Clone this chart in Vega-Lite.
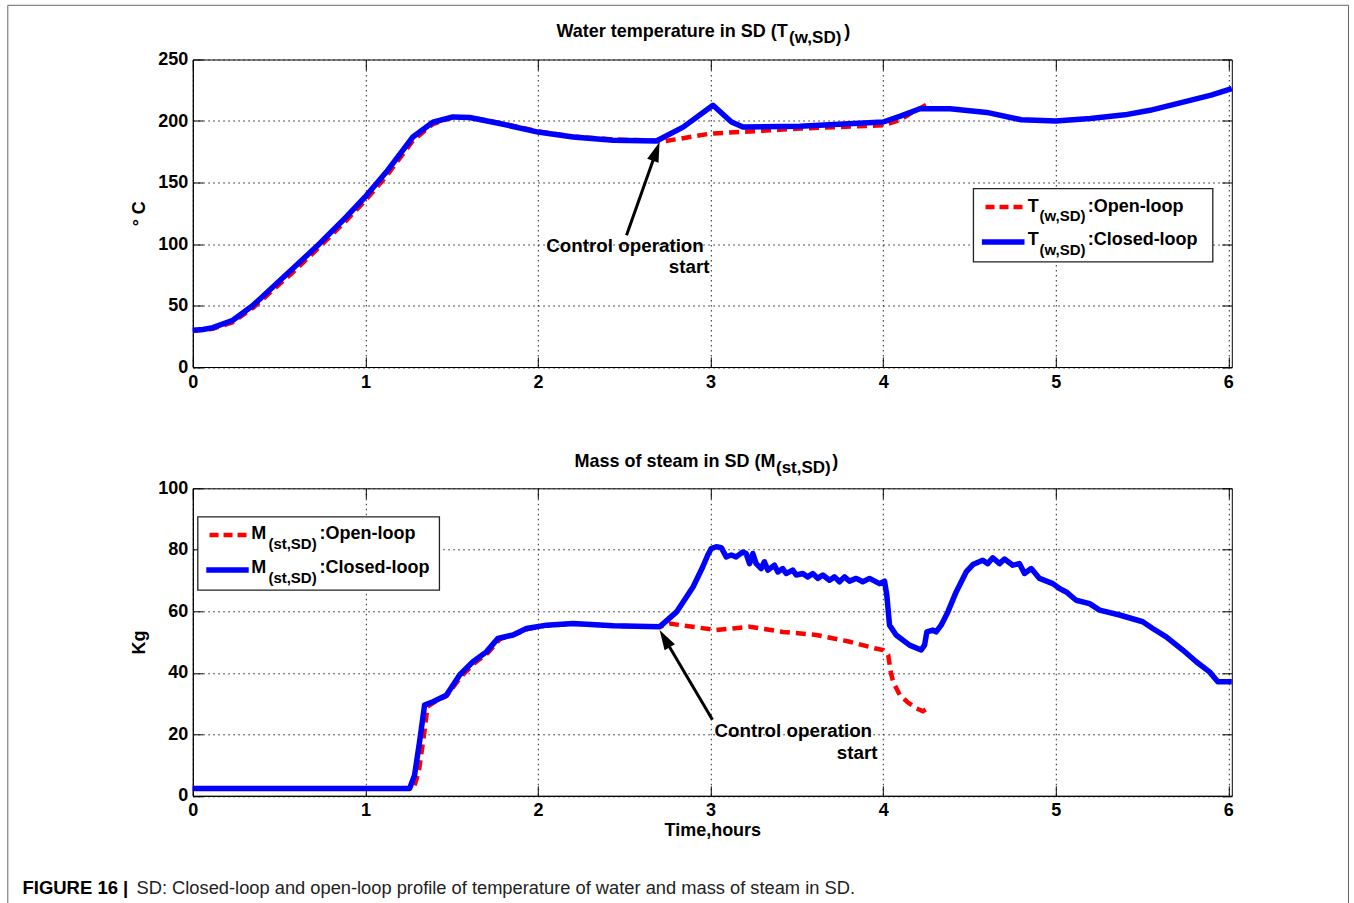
{
  "$schema": "https://vega.github.io/schema/vega-lite/v6.json",
  "autosize": {"type": "pad"},
  "padding": {"left": 5.8, "top": 3.5, "right": 0, "bottom": 0},
  "background": "white",
  "config": {
    "font": "Liberation Sans",
    "view": {"stroke": "#000", "strokeWidth": 1},
    "axis": {
      "labelFont": "Liberation Sans", "labelFontWeight": "bold", "labelFontSize": 18, "labelColor": "#000",
      "titleFont": "Liberation Sans", "titleFontWeight": "bold", "titleFontSize": 18, "titleColor": "#000",
      "domainColor": "#000", "tickColor": "#000", "gridColor": "#222", "gridDash": [1.5, 3.5], "gridWidth": 1,
      "labelFlush": false, "labelOverlap": false
    },
    "text": {"font": "Liberation Sans", "fontWeight": "bold", "color": "#000"}
  },
  "datasets": {
    "one": [{}],
    "tempOpen": [
      {"hours": 0, "temp": 29.5}, {"hours": 0.116, "temp": 31}, {"hours": 0.232, "temp": 36.5}, {"hours": 0.348, "temp": 48},
      {"hours": 0.464, "temp": 62.5}, {"hours": 0.58, "temp": 77}, {"hours": 0.734, "temp": 97.5}, {"hours": 0.889, "temp": 119},
      {"hours": 0.997, "temp": 135}, {"hours": 1.121, "temp": 155}, {"hours": 1.275, "temp": 184}, {"hours": 1.391, "temp": 197.5},
      {"hours": 1.507, "temp": 203}, {"hours": 1.604, "temp": 203}, {"hours": 1.778, "temp": 198.5}, {"hours": 2.0, "temp": 191.5},
      {"hours": 2.203, "temp": 187.5}, {"hours": 2.435, "temp": 185}, {"hours": 2.686, "temp": 184}, {"hours": 2.711, "temp": 183},
      {"hours": 2.995, "temp": 189.7}, {"hours": 3.517, "temp": 193.8}, {"hours": 4.0, "temp": 196.5}, {"hours": 4.1, "temp": 201},
      {"hours": 4.174, "temp": 207.3}, {"hours": 4.28, "temp": 215.4}
    ],
    "tempClosed": [
      {"hours": 0, "temp": 29.8}, {"hours": 0.06, "temp": 30.5}, {"hours": 0.116, "temp": 32}, {"hours": 0.232, "temp": 38},
      {"hours": 0.348, "temp": 50}, {"hours": 0.464, "temp": 65}, {"hours": 0.58, "temp": 80}, {"hours": 0.734, "temp": 100.3},
      {"hours": 0.889, "temp": 122}, {"hours": 0.997, "temp": 138}, {"hours": 1.121, "temp": 158.5}, {"hours": 1.275, "temp": 187},
      {"hours": 1.391, "temp": 199}, {"hours": 1.507, "temp": 203.3}, {"hours": 1.604, "temp": 202.8}, {"hours": 1.778, "temp": 198},
      {"hours": 2.0, "temp": 191}, {"hours": 2.203, "temp": 187}, {"hours": 2.435, "temp": 184.3}, {"hours": 2.686, "temp": 183.7},
      {"hours": 2.841, "temp": 195}, {"hours": 3.014, "temp": 212.8}, {"hours": 3.121, "temp": 199.2}, {"hours": 3.188, "temp": 195.1},
      {"hours": 3.517, "temp": 195.7}, {"hours": 4.0, "temp": 199.2}, {"hours": 4.1, "temp": 204}, {"hours": 4.213, "temp": 210},
      {"hours": 4.387, "temp": 210}, {"hours": 4.6, "temp": 207}, {"hours": 4.8, "temp": 201}, {"hours": 5.0, "temp": 200},
      {"hours": 5.2, "temp": 202}, {"hours": 5.4, "temp": 205}, {"hours": 5.546, "temp": 208.7}, {"hours": 5.738, "temp": 215.4},
      {"hours": 5.9, "temp": 221}, {"hours": 6.02, "temp": 226.3}
    ],
    "massOpen": [
      {"hours": 0, "mass": 2.4}, {"hours": 1.28, "mass": 2.4}, {"hours": 1.31, "mass": 8}, {"hours": 1.34, "mass": 20},
      {"hours": 1.36, "mass": 29}, {"hours": 1.4, "mass": 30.5}, {"hours": 1.47, "mass": 32.5}, {"hours": 1.55, "mass": 38.5},
      {"hours": 1.63, "mass": 43}, {"hours": 1.71, "mass": 46.5}, {"hours": 1.78, "mass": 51}, {"hours": 1.86, "mass": 52.3},
      {"hours": 1.94, "mass": 54.2}, {"hours": 2.05, "mass": 55.4}, {"hours": 2.2, "mass": 56}, {"hours": 2.435, "mass": 55.3},
      {"hours": 2.686, "mass": 55}, {"hours": 2.706, "mass": 55}, {"hours": 2.763, "mass": 56}, {"hours": 3.034, "mass": 53.9},
      {"hours": 3.227, "mass": 55}, {"hours": 3.42, "mass": 53.3}, {"hours": 3.614, "mass": 52.3}, {"hours": 3.807, "mass": 50.1},
      {"hours": 3.95, "mass": 48}, {"hours": 4.0, "mass": 47.4}, {"hours": 4.029, "mass": 45.8}, {"hours": 4.045, "mass": 40},
      {"hours": 4.058, "mass": 37}, {"hours": 4.097, "mass": 32.7}, {"hours": 4.14, "mass": 30.5}, {"hours": 4.194, "mass": 28.4},
      {"hours": 4.23, "mass": 27.5}, {"hours": 4.271, "mass": 28.8}
    ],
    "massClosed": [
      {"hours": 0, "mass": 2.4}, {"hours": 1.256, "mass": 2.4}, {"hours": 1.285, "mass": 6.7}, {"hours": 1.314, "mass": 17.6},
      {"hours": 1.343, "mass": 29.5}, {"hours": 1.391, "mass": 30.6}, {"hours": 1.469, "mass": 32.7}, {"hours": 1.546, "mass": 39.3},
      {"hours": 1.623, "mass": 43.6}, {"hours": 1.701, "mass": 46.8}, {"hours": 1.768, "mass": 51.2}, {"hours": 1.855, "mass": 52.3},
      {"hours": 1.933, "mass": 54.4}, {"hours": 2.049, "mass": 55.5}, {"hours": 2.203, "mass": 56.0}, {"hours": 2.435, "mass": 55.3},
      {"hours": 2.706, "mass": 55.0}, {"hours": 2.803, "mass": 59.8}, {"hours": 2.899, "mass": 68}, {"hours": 2.955, "mass": 74.5},
      {"hours": 2.984, "mass": 78.3}, {"hours": 3.004, "mass": 80.4}, {"hours": 3.033, "mass": 81.0}, {"hours": 3.062, "mass": 80.7},
      {"hours": 3.091, "mass": 77.7}, {"hours": 3.12, "mass": 78.3}, {"hours": 3.148, "mass": 77.7}, {"hours": 3.187, "mass": 79.3},
      {"hours": 3.206, "mass": 78.8}, {"hours": 3.226, "mass": 75.5}, {"hours": 3.245, "mass": 78.8}, {"hours": 3.264, "mass": 75.5},
      {"hours": 3.293, "mass": 73.9}, {"hours": 3.312, "mass": 76.1}, {"hours": 3.332, "mass": 73.4}, {"hours": 3.37, "mass": 75.0},
      {"hours": 3.39, "mass": 72.8}, {"hours": 3.418, "mass": 73.9}, {"hours": 3.438, "mass": 72.3}, {"hours": 3.476, "mass": 73.4},
      {"hours": 3.496, "mass": 71.8}, {"hours": 3.534, "mass": 72.3}, {"hours": 3.563, "mass": 71.2}, {"hours": 3.592, "mass": 72.3},
      {"hours": 3.621, "mass": 70.7}, {"hours": 3.65, "mass": 71.8}, {"hours": 3.689, "mass": 70.1}, {"hours": 3.718, "mass": 71.2},
      {"hours": 3.747, "mass": 69.6}, {"hours": 3.776, "mass": 71.2}, {"hours": 3.805, "mass": 69.8}, {"hours": 3.844, "mass": 70.7},
      {"hours": 3.882, "mass": 69.6}, {"hours": 3.921, "mass": 70.7}, {"hours": 3.979, "mass": 69.0}, {"hours": 4.008, "mass": 69.8},
      {"hours": 4.021, "mass": 65.3}, {"hours": 4.037, "mass": 55.5}, {"hours": 4.075, "mass": 52.3}, {"hours": 4.153, "mass": 49.0},
      {"hours": 4.22, "mass": 47.4}, {"hours": 4.24, "mass": 49.0}, {"hours": 4.253, "mass": 53.3}, {"hours": 4.288, "mass": 53.9},
      {"hours": 4.307, "mass": 53.3}, {"hours": 4.336, "mass": 55.5}, {"hours": 4.375, "mass": 59.8}, {"hours": 4.423, "mass": 66.3},
      {"hours": 4.481, "mass": 72.8}, {"hours": 4.52, "mass": 75.2}, {"hours": 4.577, "mass": 76.6}, {"hours": 4.606, "mass": 75.5},
      {"hours": 4.635, "mass": 77.4}, {"hours": 4.674, "mass": 75.5}, {"hours": 4.703, "mass": 77.0}, {"hours": 4.751, "mass": 75.0},
      {"hours": 4.79, "mass": 75.5}, {"hours": 4.819, "mass": 72.3}, {"hours": 4.858, "mass": 73.9}, {"hours": 4.906, "mass": 70.7},
      {"hours": 4.983, "mass": 69.0}, {"hours": 5.022, "mass": 67.4}, {"hours": 5.061, "mass": 66.3}, {"hours": 5.118, "mass": 63.6},
      {"hours": 5.196, "mass": 62.5}, {"hours": 5.254, "mass": 60.4}, {"hours": 5.37, "mass": 58.8}, {"hours": 5.504, "mass": 56.6},
      {"hours": 5.562, "mass": 54.4}, {"hours": 5.64, "mass": 51.7}, {"hours": 5.736, "mass": 47.4}, {"hours": 5.814, "mass": 43.6},
      {"hours": 5.891, "mass": 40.3}, {"hours": 5.939, "mass": 37.1}, {"hours": 6.02, "mass": 37.1}
    ]
  },
  "vconcat": [
    {
      "width": 1039,
      "height": 307.5,
      "resolve": {"axis": {"x": "independent", "y": "independent"}},
      "layer": [
        {
          "data": {"name": "tempOpen"},
          "mark": {"type": "line", "color": "#ff0000", "strokeWidth": 4.5, "strokeDash": [10, 6]},
          "encoding": {
            "x": {"field": "hours", "type": "quantitative", "scale": {"domain": [0, 6.02], "nice": false, "zero": false},
                  "axis": {"orient": "bottom", "values": [0, 1, 2, 3, 4, 5, 6], "format": "d", "ticks": false, "grid": true, "labelPadding": 6, "title": null}},
            "y": {"field": "temp", "type": "quantitative", "scale": {"domain": [0, 250], "nice": false},
                  "axis": {"orient": "left", "values": [0, 50, 100, 150, 200, 250], "format": "d", "ticks": false, "grid": true, "labelPadding": 5, "title": "° C", "titlePadding": 9}}
          }
        },
        {
          "data": {"name": "tempClosed"},
          "mark": {"type": "line", "color": "#0000ff", "strokeWidth": 5.5, "strokeJoin": "round"},
          "encoding": {
            "x": {"field": "hours", "type": "quantitative", "scale": {"domain": [0, 6.02], "nice": false, "zero": false},
                  "axis": {"orient": "bottom", "values": [0, 1, 2, 3, 4, 5, 6], "ticks": true, "tickSize": 10, "offset": -10, "domain": false, "labels": false, "grid": false, "title": null}},
            "y": {"field": "temp", "type": "quantitative", "scale": {"domain": [0, 250], "nice": false},
                  "axis": {"orient": "left", "values": [0, 50, 100, 150, 200, 250], "ticks": true, "tickSize": 10, "offset": -10, "domain": false, "labels": false, "grid": false, "title": null}}
          }
        },
        {
          "data": {"name": "one"},
          "mark": {"type": "rect", "fill": "white", "stroke": "#222", "strokeWidth": 1.3},
          "encoding": {
            "x": {"datum": 4.523, "type": "quantitative", "scale": {"domain": [0, 6.02], "nice": false, "zero": false},
                  "axis": {"orient": "top", "values": [0, 1, 2, 3, 4, 5, 6], "ticks": true, "tickSize": 10, "offset": -10, "domain": false, "labels": false, "grid": false, "title": null}},
            "x2": {"datum": 5.91},
            "y": {"datum": 145.0, "type": "quantitative", "scale": {"domain": [0, 250], "nice": false},
                  "axis": {"orient": "right", "values": [0, 50, 100, 150, 200, 250], "ticks": true, "tickSize": 10, "offset": -10, "domain": false, "labels": false, "grid": false, "title": null}},
            "y2": {"datum": 85.4}
          }
        },
        {
          "data": {"name": "one"},
          "mark": {"type": "rect", "fill": null, "filled": false, "stroke": "#666", "strokeWidth": 1},
          "encoding": {
            "x": {"datum": -1.0719, "type": "quantitative", "scale": {"domain": [0, 6.02], "nice": false, "zero": false}, "axis": null},
            "x2": {"datum": 6.6962},
            "y": {"datum": 294.06, "type": "quantitative", "scale": {"domain": [0, 250], "nice": false}, "axis": null},
            "y2": {"datum": -437.6}
          }
        },
        {
          "data": {"name": "one"},
          "mark": {"type": "rule", "color": "#ff0000", "strokeWidth": 4.5, "strokeDash": [9, 5]},
          "encoding": {
            "x": {"datum": 4.593, "type": "quantitative", "scale": {"domain": [0, 6.02], "nice": false, "zero": false}, "axis": null},
            "x2": {"datum": 4.819},
            "y": {"datum": 130.1, "type": "quantitative", "scale": {"domain": [0, 250], "nice": false}, "axis": null}
          }
        },
        {
          "data": {"name": "one"},
          "mark": {"type": "rule", "color": "#0000ff", "strokeWidth": 5.5},
          "encoding": {
            "x": {"datum": 4.572, "type": "quantitative", "scale": {"domain": [0, 6.02], "nice": false, "zero": false}, "axis": null},
            "x2": {"datum": 4.819},
            "y": {"datum": 101.6, "type": "quantitative", "scale": {"domain": [0, 250], "nice": false}, "axis": null}
          }
        },
        {
          "data": {"name": "one"},
          "mark": {"type": "text", "align": "left", "baseline": "alphabetic", "fontSize": 18},
          "encoding": {
            "x": {"datum": 4.838, "type": "quantitative", "scale": {"domain": [0, 6.02], "nice": false, "zero": false}, "axis": null},
            "y": {"datum": 126.0, "type": "quantitative", "scale": {"domain": [0, 250], "nice": false}, "axis": null},
            "text": {"value": "T"}
          }
        },
        {
          "data": {"name": "one"},
          "mark": {"type": "text", "align": "left", "baseline": "alphabetic", "fontSize": 15},
          "encoding": {
            "x": {"datum": 4.906, "type": "quantitative", "scale": {"domain": [0, 6.02], "nice": false, "zero": false}, "axis": null},
            "y": {"datum": 118.5, "type": "quantitative", "scale": {"domain": [0, 250], "nice": false}, "axis": null},
            "text": {"value": "(w,SD)"}
          }
        },
        {
          "data": {"name": "one"},
          "mark": {"type": "text", "align": "left", "baseline": "alphabetic", "fontSize": 18},
          "encoding": {
            "x": {"datum": 5.185, "type": "quantitative", "scale": {"domain": [0, 6.02], "nice": false, "zero": false}, "axis": null},
            "y": {"datum": 126.0, "type": "quantitative", "scale": {"domain": [0, 250], "nice": false}, "axis": null},
            "text": {"value": ":Open-loop"}
          }
        },
        {
          "data": {"name": "one"},
          "mark": {"type": "text", "align": "left", "baseline": "alphabetic", "fontSize": 18},
          "encoding": {
            "x": {"datum": 4.838, "type": "quantitative", "scale": {"domain": [0, 6.02], "nice": false, "zero": false}, "axis": null},
            "y": {"datum": 98.9, "type": "quantitative", "scale": {"domain": [0, 250], "nice": false}, "axis": null},
            "text": {"value": "T"}
          }
        },
        {
          "data": {"name": "one"},
          "mark": {"type": "text", "align": "left", "baseline": "alphabetic", "fontSize": 15},
          "encoding": {
            "x": {"datum": 4.906, "type": "quantitative", "scale": {"domain": [0, 6.02], "nice": false, "zero": false}, "axis": null},
            "y": {"datum": 90.8, "type": "quantitative", "scale": {"domain": [0, 250], "nice": false}, "axis": null},
            "text": {"value": "(w,SD)"}
          }
        },
        {
          "data": {"name": "one"},
          "mark": {"type": "text", "align": "left", "baseline": "alphabetic", "fontSize": 18},
          "encoding": {
            "x": {"datum": 5.185, "type": "quantitative", "scale": {"domain": [0, 6.02], "nice": false, "zero": false}, "axis": null},
            "y": {"datum": 98.9, "type": "quantitative", "scale": {"domain": [0, 250], "nice": false}, "axis": null},
            "text": {"value": ":Closed-loop"}
          }
        },
        {
          "data": {"name": "one"},
          "mark": {"type": "text", "align": "left", "baseline": "alphabetic", "fontSize": 18},
          "encoding": {
            "x": {"datum": 2.107, "type": "quantitative", "scale": {"domain": [0, 6.02], "nice": false, "zero": false}, "axis": null},
            "y": {"datum": 268.0, "type": "quantitative", "scale": {"domain": [0, 250], "nice": false}, "axis": null},
            "text": {"value": "Water temperature in SD (T"}
          }
        },
        {
          "data": {"name": "one"},
          "mark": {"type": "text", "align": "left", "baseline": "alphabetic", "fontSize": 17},
          "encoding": {
            "x": {"datum": 3.455, "type": "quantitative", "scale": {"domain": [0, 6.02], "nice": false, "zero": false}, "axis": null},
            "y": {"datum": 263.2, "type": "quantitative", "scale": {"domain": [0, 250], "nice": false}, "axis": null},
            "text": {"value": "(w,SD)"}
          }
        },
        {
          "data": {"name": "one"},
          "mark": {"type": "text", "align": "left", "baseline": "alphabetic", "fontSize": 18},
          "encoding": {
            "x": {"datum": 3.775, "type": "quantitative", "scale": {"domain": [0, 6.02], "nice": false, "zero": false}, "axis": null},
            "y": {"datum": 268.0, "type": "quantitative", "scale": {"domain": [0, 250], "nice": false}, "axis": null},
            "text": {"value": ")"}
          }
        },
        {
          "data": {"name": "one"},
          "mark": {"type": "text", "align": "left", "baseline": "alphabetic", "fontSize": 18.8},
          "encoding": {
            "x": {"datum": 2.048, "type": "quantitative", "scale": {"domain": [0, 6.02], "nice": false, "zero": false}, "axis": null},
            "y": {"datum": 93.5, "type": "quantitative", "scale": {"domain": [0, 250], "nice": false}, "axis": null},
            "text": {"value": "Control operation"}
          }
        },
        {
          "data": {"name": "one"},
          "mark": {"type": "text", "align": "right", "baseline": "alphabetic", "fontSize": 18.8},
          "encoding": {
            "x": {"datum": 2.994, "type": "quantitative", "scale": {"domain": [0, 6.02], "nice": false, "zero": false}, "axis": null},
            "y": {"datum": 76.2, "type": "quantitative", "scale": {"domain": [0, 250], "nice": false}, "axis": null},
            "text": {"value": "start"}
          }
        },
        {
          "data": {"name": "one"},
          "mark": {"type": "rule", "color": "#000", "strokeWidth": 3},
          "encoding": {
            "x": {"datum": 2.513, "type": "quantitative", "scale": {"domain": [0, 6.02], "nice": false, "zero": false}, "axis": null},
            "x2": {"datum": 2.685},
            "y": {"datum": 107.1, "type": "quantitative", "scale": {"domain": [0, 250], "nice": false}, "axis": null},
            "y2": {"datum": 175.3}
          }
        },
        {
          "data": {"name": "one"},
          "mark": {"type": "point", "shape": "M0,-1L0.6,1L-0.6,1Z", "filled": true, "color": "#000", "opacity": 1, "size": 400, "angle": 19.5},
          "encoding": {
            "x": {"datum": 2.685, "type": "quantitative", "scale": {"domain": [0, 6.02], "nice": false, "zero": false}, "axis": null},
            "y": {"datum": 175.3, "type": "quantitative", "scale": {"domain": [0, 250], "nice": false}, "axis": null}
          }
        }
      ]
    },
    {
      "width": 1039,
      "height": 307.5,
      "resolve": {"axis": {"x": "independent", "y": "independent"}},
      "layer": [
        {
          "data": {"name": "massOpen"},
          "mark": {"type": "line", "color": "#ff0000", "strokeWidth": 4.5, "strokeDash": [10, 6]},
          "encoding": {
            "x": {"field": "hours", "type": "quantitative", "scale": {"domain": [0, 6.02], "nice": false, "zero": false},
                  "axis": {"orient": "bottom", "values": [0, 1, 2, 3, 4, 5, 6], "format": "d", "ticks": false, "grid": true, "labelPadding": 6, "title": "Time,hours", "titlePadding": 2}},
            "y": {"field": "mass", "type": "quantitative", "scale": {"domain": [0, 100], "nice": false},
                  "axis": {"orient": "left", "values": [0, 20, 40, 60, 80, 100], "format": "d", "ticks": false, "grid": true, "labelPadding": 5, "title": "Kg", "titlePadding": 9}}
          }
        },
        {
          "data": {"name": "massClosed"},
          "mark": {"type": "line", "color": "#0000ff", "strokeWidth": 5.5, "strokeJoin": "round"},
          "encoding": {
            "x": {"field": "hours", "type": "quantitative", "scale": {"domain": [0, 6.02], "nice": false, "zero": false},
                  "axis": {"orient": "bottom", "values": [0, 1, 2, 3, 4, 5, 6], "ticks": true, "tickSize": 10, "offset": -10, "domain": false, "labels": false, "grid": false, "title": null}},
            "y": {"field": "mass", "type": "quantitative", "scale": {"domain": [0, 100], "nice": false},
                  "axis": {"orient": "left", "values": [0, 20, 40, 60, 80, 100], "ticks": true, "tickSize": 10, "offset": -10, "domain": false, "labels": false, "grid": false, "title": null}}
          }
        },
        {
          "data": {"name": "one"},
          "mark": {"type": "rect", "fill": "white", "stroke": "#222", "strokeWidth": 1.3},
          "encoding": {
            "x": {"datum": 0.029, "type": "quantitative", "scale": {"domain": [0, 6.02], "nice": false, "zero": false},
                  "axis": {"orient": "top", "values": [0, 1, 2, 3, 4, 5, 6], "ticks": true, "tickSize": 10, "offset": -10, "domain": false, "labels": false, "grid": false, "title": null}},
            "x2": {"datum": 1.429},
            "y": {"datum": 90.7, "type": "quantitative", "scale": {"domain": [0, 100], "nice": false},
                  "axis": {"orient": "right", "values": [0, 20, 40, 60, 80, 100], "ticks": true, "tickSize": 10, "offset": -10, "domain": false, "labels": false, "grid": false, "title": null}},
            "y2": {"datum": 66.9}
          }
        },
        {
          "data": {"name": "one"},
          "mark": {"type": "rule", "color": "#ff0000", "strokeWidth": 4.5, "strokeDash": [9, 5]},
          "encoding": {
            "x": {"datum": 0.097, "type": "quantitative", "scale": {"domain": [0, 6.02], "nice": false, "zero": false}, "axis": null},
            "x2": {"datum": 0.319},
            "y": {"datum": 84.8, "type": "quantitative", "scale": {"domain": [0, 100], "nice": false}, "axis": null}
          }
        },
        {
          "data": {"name": "one"},
          "mark": {"type": "rule", "color": "#0000ff", "strokeWidth": 5.5},
          "encoding": {
            "x": {"datum": 0.078, "type": "quantitative", "scale": {"domain": [0, 6.02], "nice": false, "zero": false}, "axis": null},
            "x2": {"datum": 0.324},
            "y": {"datum": 73.4, "type": "quantitative", "scale": {"domain": [0, 100], "nice": false}, "axis": null}
          }
        },
        {
          "data": {"name": "one"},
          "mark": {"type": "text", "align": "left", "baseline": "alphabetic", "fontSize": 18},
          "encoding": {
            "x": {"datum": 0.338, "type": "quantitative", "scale": {"domain": [0, 6.02], "nice": false, "zero": false}, "axis": null},
            "y": {"datum": 83.5, "type": "quantitative", "scale": {"domain": [0, 100], "nice": false}, "axis": null},
            "text": {"value": "M"}
          }
        },
        {
          "data": {"name": "one"},
          "mark": {"type": "text", "align": "left", "baseline": "alphabetic", "fontSize": 15},
          "encoding": {
            "x": {"datum": 0.438, "type": "quantitative", "scale": {"domain": [0, 6.02], "nice": false, "zero": false}, "axis": null},
            "y": {"datum": 80.3, "type": "quantitative", "scale": {"domain": [0, 100], "nice": false}, "axis": null},
            "text": {"value": "(st,SD)"}
          }
        },
        {
          "data": {"name": "one"},
          "mark": {"type": "text", "align": "left", "baseline": "alphabetic", "fontSize": 18},
          "encoding": {
            "x": {"datum": 0.734, "type": "quantitative", "scale": {"domain": [0, 6.02], "nice": false, "zero": false}, "axis": null},
            "y": {"datum": 83.5, "type": "quantitative", "scale": {"domain": [0, 100], "nice": false}, "axis": null},
            "text": {"value": ":Open-loop"}
          }
        },
        {
          "data": {"name": "one"},
          "mark": {"type": "text", "align": "left", "baseline": "alphabetic", "fontSize": 18},
          "encoding": {
            "x": {"datum": 0.338, "type": "quantitative", "scale": {"domain": [0, 6.02], "nice": false, "zero": false}, "axis": null},
            "y": {"datum": 72.3, "type": "quantitative", "scale": {"domain": [0, 100], "nice": false}, "axis": null},
            "text": {"value": "M"}
          }
        },
        {
          "data": {"name": "one"},
          "mark": {"type": "text", "align": "left", "baseline": "alphabetic", "fontSize": 15},
          "encoding": {
            "x": {"datum": 0.438, "type": "quantitative", "scale": {"domain": [0, 6.02], "nice": false, "zero": false}, "axis": null},
            "y": {"datum": 69.3, "type": "quantitative", "scale": {"domain": [0, 100], "nice": false}, "axis": null},
            "text": {"value": "(st,SD)"}
          }
        },
        {
          "data": {"name": "one"},
          "mark": {"type": "text", "align": "left", "baseline": "alphabetic", "fontSize": 18},
          "encoding": {
            "x": {"datum": 0.734, "type": "quantitative", "scale": {"domain": [0, 6.02], "nice": false, "zero": false}, "axis": null},
            "y": {"datum": 72.3, "type": "quantitative", "scale": {"domain": [0, 100], "nice": false}, "axis": null},
            "text": {"value": ":Closed-loop"}
          }
        },
        {
          "data": {"name": "one"},
          "mark": {"type": "text", "align": "left", "baseline": "alphabetic", "fontSize": 18},
          "encoding": {
            "x": {"datum": 2.212, "type": "quantitative", "scale": {"domain": [0, 6.02], "nice": false, "zero": false}, "axis": null},
            "y": {"datum": 107.0, "type": "quantitative", "scale": {"domain": [0, 100], "nice": false}, "axis": null},
            "text": {"value": "Mass of steam in SD (M"}
          }
        },
        {
          "data": {"name": "one"},
          "mark": {"type": "text", "align": "left", "baseline": "alphabetic", "fontSize": 17},
          "encoding": {
            "x": {"datum": 3.379, "type": "quantitative", "scale": {"domain": [0, 6.02], "nice": false, "zero": false}, "axis": null},
            "y": {"datum": 105.0, "type": "quantitative", "scale": {"domain": [0, 100], "nice": false}, "axis": null},
            "text": {"value": "(st,SD)"}
          }
        },
        {
          "data": {"name": "one"},
          "mark": {"type": "text", "align": "left", "baseline": "alphabetic", "fontSize": 18},
          "encoding": {
            "x": {"datum": 3.705, "type": "quantitative", "scale": {"domain": [0, 6.02], "nice": false, "zero": false}, "axis": null},
            "y": {"datum": 107.0, "type": "quantitative", "scale": {"domain": [0, 100], "nice": false}, "axis": null},
            "text": {"value": ")"}
          }
        },
        {
          "data": {"name": "one"},
          "mark": {"type": "text", "align": "left", "baseline": "alphabetic", "fontSize": 18.8},
          "encoding": {
            "x": {"datum": 3.023, "type": "quantitative", "scale": {"domain": [0, 6.02], "nice": false, "zero": false}, "axis": null},
            "y": {"datum": 19.2, "type": "quantitative", "scale": {"domain": [0, 100], "nice": false}, "axis": null},
            "text": {"value": "Control operation"}
          }
        },
        {
          "data": {"name": "one"},
          "mark": {"type": "text", "align": "right", "baseline": "alphabetic", "fontSize": 18.8},
          "encoding": {
            "x": {"datum": 3.967, "type": "quantitative", "scale": {"domain": [0, 6.02], "nice": false, "zero": false}, "axis": null},
            "y": {"datum": 12.0, "type": "quantitative", "scale": {"domain": [0, 100], "nice": false}, "axis": null},
            "text": {"value": "start"}
          }
        },
        {
          "data": {"name": "one"},
          "mark": {"type": "rule", "color": "#000", "strokeWidth": 3},
          "encoding": {
            "x": {"datum": 3.011, "type": "quantitative", "scale": {"domain": [0, 6.02], "nice": false, "zero": false}, "axis": null},
            "x2": {"datum": 2.734},
            "y": {"datum": 24.7, "type": "quantitative", "scale": {"domain": [0, 100], "nice": false}, "axis": null},
            "y2": {"datum": 51.1}
          }
        },
        {
          "data": {"name": "one"},
          "mark": {"type": "point", "shape": "M0,-1L0.6,1L-0.6,1Z", "filled": true, "color": "#000", "opacity": 1, "size": 400, "angle": -30.6},
          "encoding": {
            "x": {"datum": 2.734, "type": "quantitative", "scale": {"domain": [0, 6.02], "nice": false, "zero": false}, "axis": null},
            "y": {"datum": 51.1, "type": "quantitative", "scale": {"domain": [0, 100], "nice": false}, "axis": null}
          }
        },
        {
          "data": {"name": "one"},
          "mark": {"type": "text", "align": "left", "baseline": "alphabetic", "fontSize": 18.5, "fontWeight": "bold"},
          "encoding": {
            "x": {"datum": -0.987, "type": "quantitative", "scale": {"domain": [0, 6.02], "nice": false, "zero": false}, "axis": null},
            "y": {"datum": -31.8, "type": "quantitative", "scale": {"domain": [0, 100], "nice": false}, "axis": null},
            "text": {"value": "FIGURE 16 |"}
          }
        },
        {
          "data": {"name": "one"},
          "mark": {"type": "text", "align": "left", "baseline": "alphabetic", "fontSize": 18.3, "fontWeight": "normal", "color": "#222"},
          "encoding": {
            "x": {"datum": -0.326, "type": "quantitative", "scale": {"domain": [0, 6.02], "nice": false, "zero": false}, "axis": null},
            "y": {"datum": -31.8, "type": "quantitative", "scale": {"domain": [0, 100], "nice": false}, "axis": null},
            "text": {"value": "SD: Closed-loop and open-loop profile of temperature of water and mass of steam in SD."}
          }
        }
      ]
    }
  ],
  "spacing": 120.8,
  "bounds": "flush"
}
